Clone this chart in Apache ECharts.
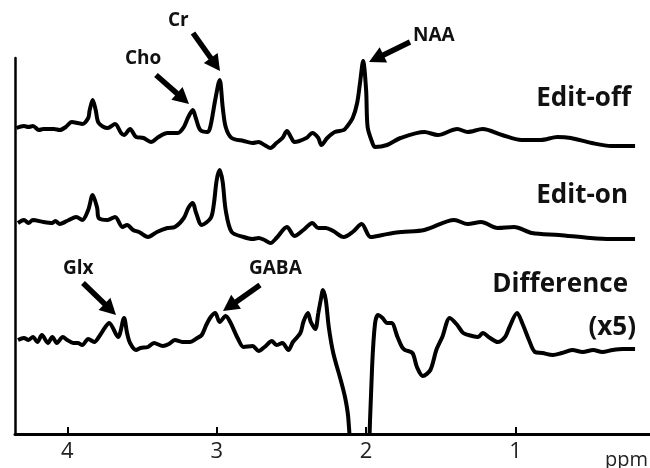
<!DOCTYPE html>
<html>
<head>
<meta charset="utf-8">
<script src="https://cdn.jsdelivr.net/npm/echarts@6/dist/echarts.min.js"></script>
<style>
  html, body { margin: 0; padding: 0; background: #fff; }
  #chart { width: 650px; height: 468px; }
</style>
</head>
<body>
<div id="chart"></div>
<script>
// ppm ticks shown on the x axis
const ppmTicks = [1, 2, 3, 4]

// [ppm, intensity] (arbitrary units, spectra stacked)
const editOff = [
  [4.34, 306], [4.29, 308], [4.26, 307], [4.23, 308], [4.19, 304], [4.16, 305], [4.09, 305],
  [4.05, 304], [4.01, 307], [3.97, 312], [3.93, 311], [3.90, 310], [3.86, 316], [3.85, 324],
  [3.83, 334], [3.81, 324], [3.79, 311], [3.73, 306], [3.68, 310], [3.64, 301], [3.62, 299],
  [3.58, 305], [3.54, 297], [3.49, 296], [3.44, 292], [3.39, 297], [3.33, 301], [3.26, 301],
  [3.22, 307], [3.19, 317], [3.16, 324], [3.14, 316], [3.11, 304], [3.06, 302], [3.04, 309],
  [3.01, 334], [2.98, 354], [2.96, 327], [2.94, 307], [2.90, 296], [2.82, 293], [2.76, 291],
  [2.72, 292], [2.68, 289], [2.64, 286], [2.60, 291], [2.56, 296], [2.53, 303], [2.50, 296],
  [2.48, 292], [2.40, 296], [2.36, 301], [2.32, 296], [2.30, 289], [2.26, 296], [2.21, 302],
  [2.15, 304], [2.13, 307], [2.09, 316], [2.06, 331], [2.04, 352], [2.02, 373], [2.00, 344],
  [1.99, 307], [1.96, 292], [1.94, 287], [1.86, 289], [1.77, 296], [1.61, 302], [1.52, 299],
  [1.39, 305], [1.32, 302], [1.22, 305], [1.09, 299], [0.96, 294], [0.83, 294], [0.72, 297],
  [0.63, 296], [0.49, 291], [0.36, 288], [0.20, 288]
]

const editOn = [
  [4.33, 211], [4.29, 214], [4.26, 211], [4.23, 214], [4.16, 212], [4.10, 211], [4.08, 213],
  [4.05, 210], [3.99, 214], [3.94, 217], [3.90, 214], [3.86, 224], [3.83, 239], [3.80, 226],
  [3.79, 216], [3.73, 214], [3.68, 217], [3.63, 207], [3.60, 209], [3.56, 204], [3.52, 202],
  [3.46, 197], [3.40, 202], [3.33, 206], [3.28, 207], [3.22, 216], [3.19, 226], [3.16, 231],
  [3.14, 222], [3.10, 209], [3.04, 216], [3.02, 229], [3.00, 254], [2.98, 264], [2.96, 252],
  [2.94, 224], [2.90, 202], [2.82, 197], [2.76, 195], [2.72, 196], [2.68, 194], [2.64, 191],
  [2.60, 196], [2.53, 207], [2.48, 198], [2.42, 204], [2.36, 211], [2.32, 206], [2.27, 206],
  [2.22, 203], [2.15, 197], [2.09, 202], [2.03, 210], [1.97, 197], [1.89, 199], [1.82, 201],
  [1.76, 202], [1.61, 204], [1.41, 214], [1.32, 210], [1.23, 212], [1.12, 206], [1.01, 207],
  [0.89, 201], [0.71, 199], [0.50, 196], [0.36, 195], [0.20, 195]
]

const difference = [
  [4.33, 94], [4.29, 96], [4.26, 94], [4.23, 97], [4.20, 92], [4.17, 99], [4.13, 91],
  [4.10, 97], [4.07, 91], [4.03, 97], [4.00, 94], [3.96, 91], [3.93, 91], [3.90, 89],
  [3.86, 95], [3.82, 92], [3.78, 99], [3.75, 106], [3.72, 111], [3.66, 97], [3.62, 116],
  [3.60, 101], [3.58, 91], [3.54, 84], [3.51, 86], [3.46, 87], [3.42, 91], [3.36, 88],
  [3.32, 90], [3.28, 94], [3.23, 92], [3.18, 92], [3.13, 96], [3.10, 99], [3.07, 109],
  [3.04, 117], [3.01, 121], [2.98, 112], [2.94, 118], [2.91, 112], [2.86, 96], [2.82, 87],
  [2.76, 88], [2.72, 83], [2.68, 87], [2.63, 93], [2.60, 89], [2.56, 91], [2.52, 84],
  [2.49, 92], [2.44, 101], [2.42, 112], [2.39, 121], [2.37, 112], [2.34, 105], [2.32, 121],
  [2.30, 137], [2.29, 144], [2.27, 134], [2.25, 107], [2.22, 81], [2.17, 54], [2.14, 36],
  [2.12, 17], [2.10, -30], [2.06, -150], [2.00, -150], [1.985, -40], [1.96, 67], [1.94, 111],
  [1.92, 119], [1.89, 116], [1.86, 111], [1.83, 111], [1.79, 97], [1.76, 87], [1.74, 84],
  [1.69, 81], [1.66, 67], [1.62, 58], [1.57, 64], [1.53, 84], [1.49, 97], [1.44, 116],
  [1.39, 109], [1.35, 101], [1.29, 98], [1.25, 97], [1.22, 101], [1.17, 96], [1.12, 92],
  [1.07, 97], [1.04, 107], [0.99, 121], [0.95, 109], [0.91, 94], [0.87, 82], [0.82, 81],
  [0.75, 79], [0.69, 81], [0.62, 84], [0.55, 82], [0.48, 84], [0.42, 82], [0.35, 84],
  [0.28, 85], [0.20, 85]
]

const traceNames = ['Edit-off', 'Edit-on', 'Difference']

const FONT = '"Open Sans", "Liberation Sans", sans-serif'

// thick annotation arrow from (x1,y1) to tip (x2,y2)
const arrow = (x1, y1, x2, y2) => {
  const dx = x2 - x1
  const dy = y2 - y1
  const len = Math.sqrt(dx * dx + dy * dy)
  const ux = dx / len
  const uy = dy / len
  const head = 16
  const half = 8.5
  const bx = x2 - ux * head
  const by = y2 - uy * head
  return [
    {
      type: 'line',
      shape: { x1: x1, y1: y1, x2: bx + ux, y2: by + uy },
      style: { stroke: '#000', lineWidth: 5.5 }
    },
    {
      type: 'polygon',
      shape: { points: [[x2, y2], [bx - uy * half, by + ux * half], [bx + uy * half, by - ux * half]] },
      style: { fill: '#000' }
    }
  ]
}

const label = (text, x, y, size, align) => ({
  type: 'text',
  x: x,
  y: y,
  style: {
    text: text,
    fill: '#111',
    font: 'bold ' + size + 'px ' + FONT,
    textAlign: align || 'left',
    textVerticalAlign: 'bottom'
  }
})

const chart = echarts.init(document.getElementById('chart'))

chart.setOption({
  animation: false,
  grid: { left: 15, right: 0, top: 58, bottom: 34 },
  xAxis: {
    type: 'value',
    inverse: true,
    min: 0.1,
    max: 4.35,
    splitLine: { show: false },
    axisLine: { lineStyle: { color: '#000', width: 3 } },
    axisTick: { inside: true, length: 7, customValues: ppmTicks, lineStyle: { color: '#000', width: 2 } },
    axisLabel: { customValues: ppmTicks, color: '#222', fontSize: 22, fontFamily: FONT, margin: 7 }
  },
  yAxis: {
    type: 'value',
    min: 0,
    max: 376,
    splitLine: { show: false },
    axisTick: { show: false },
    axisLabel: { show: false },
    axisLine: { show: true, lineStyle: { color: '#000', width: 2.5 } }
  },
  series: [editOff, editOn, difference].map((d, i) => ({
    name: traceNames[i],
    type: 'line',
    data: d,
    showSymbol: false,
    smooth: 0.3,
    clip: true,
    lineStyle: { color: '#000', width: 4 }
  })),
  graphic: [
    ...arrow(156, 75, 189, 104),
    ...arrow(193, 33, 220, 71),
    ...arrow(410, 42, 369, 62),
    ...arrow(83, 283, 116, 315),
    ...arrow(260, 285, 223, 311),
    label('Cho', 125, 68, 19),
    label('Cr', 168, 30, 19),
    label('NAA', 413, 45, 19),
    label('Glx', 63, 278, 19),
    label('GABA', 249, 278, 19),
    label('Edit-off', 631, 112, 26, 'right'),
    label('Edit-on', 628, 209, 26, 'right'),
    label('Difference', 628, 298, 26, 'right'),
    label('(x5)', 636, 341, 26, 'right'),
    {
      type: 'text',
      x: 605,
      y: 470,
      style: { text: 'ppm', fill: '#222', font: '20px ' + FONT, textVerticalAlign: 'bottom' }
    }
  ]
})
</script>
</body>
</html>
